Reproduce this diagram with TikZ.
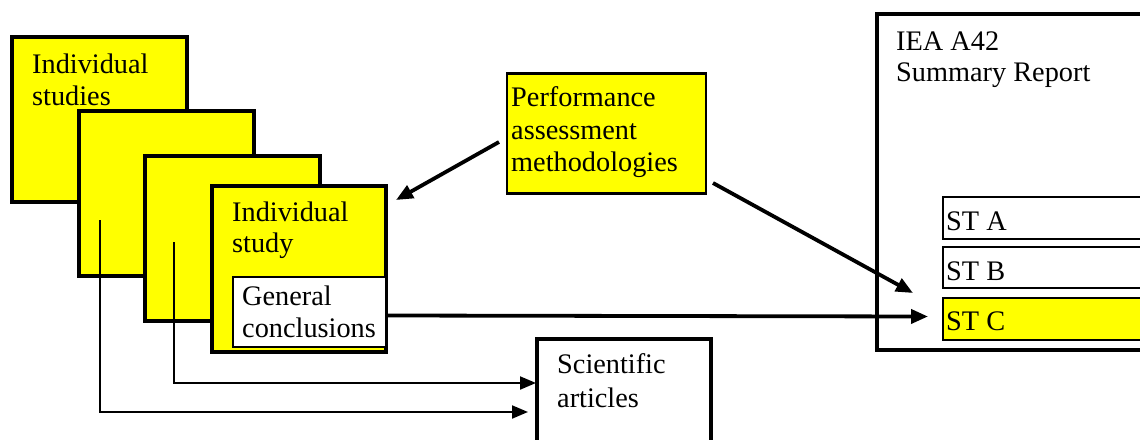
\documentclass[tikz,border=0pt]{standalone}
\usepackage{fontspec}
\setmainfont{Liberation Serif}
\usetikzlibrary{arrows.meta}
\definecolor{studyyellow}{HTML}{FFFF00}
\tikzset{
  boxbase/.style={rectangle, draw=black, inner sep=0pt, outer sep=0pt, anchor=north west},
  heavybox/.style={boxbase, line width=3.8pt},
  lightbox/.style={boxbase, line width=2pt},
  yellowfill/.style={fill=studyyellow},
  whitefill/.style={fill=white},
  txt/.style={anchor=base west, inner sep=0pt, font=\fontsize{28.3}{32}\selectfont},
  boldarrow/.style={line width=3.8pt, -{Triangle[length=17pt, width=14pt]}},
  thinarrow/.style={line width=2pt, -{Triangle[length=16pt, width=13pt]}},
}
\begin{document}
\begin{tikzpicture}[x=1pt, y=-1pt]
\path[use as bounding box, clip] (0,0) rectangle (1140,439);
\fill[white] (0,0) rectangle (1140,439);

% stack of individual studies
\node[heavybox, yellowfill, minimum width=175pt, minimum height=165pt] (s1) at (12,37) {};
\node[txt] (s1a) at (32,73) {Individual};
\node[txt] (s1b) at (32,105) {studies};
\node[heavybox, yellowfill, minimum width=175pt, minimum height=165pt] (s2) at (79,111) {};
\node[heavybox, yellowfill, minimum width=175pt, minimum height=165pt] (s3) at (145,156) {};
\node[heavybox, yellowfill, minimum width=174pt, minimum height=166pt] (s4) at (212,186) {};
\node[txt] (s4a) at (232,221.5) {Individual};
\node[txt] (s4b) at (232,252.5) {study};
\node[lightbox, whitefill, minimum width=153pt, minimum height=70pt] (gc) at (233,277) {};
\node[txt] (gca) at (242,305) {General};
\node[txt] (gcb) at (242,337) {conclusions};

% methodologies
\node[boxbase, line width=2.6pt, yellowfill, minimum width=199pt, minimum height=120pt] (pm) at (507,73.5) {};
\node[txt] (pma) at (511,106.5) {Performance};
\node[txt] (pmb) at (511,139.5) {assessment};
\node[txt] (pmc) at (511,171.5) {methodologies};

% summary report
\node[heavybox, minimum width=290pt, minimum height=336pt] (rep) at (877,14) {};
\node[txt] (repa) at (896,50) {IEA A42};
\node[txt] (repb) at (896,81.5) {Summary Report};
\node[lightbox, whitefill, minimum width=230pt, minimum height=41.5pt] (sta) at (942.5,197) {};
\node[txt] (staa) at (946,230) {ST A};
\node[lightbox, whitefill, minimum width=230pt, minimum height=41pt] (stb) at (942.5,246.5) {};
\node[txt] (stbb) at (946,280) {ST B};
\node[lightbox, yellowfill, minimum width=230pt, minimum height=41.5pt] (stc) at (942.5,298) {};
\node[txt] (stcc) at (946,330) {ST C};

% scientific articles
\node[heavybox, minimum width=174pt, minimum height=130pt] (sci) at (537,339) {};
\node[txt] (scia) at (557,373) {Scientific};
\node[txt] (scib) at (557,407) {articles};

% connector end points
\coordinate (m1) at (499,142);
\coordinate (m1e) at (396,200);
\coordinate (m2) at (713,183);
\coordinate (m2e) at (913,293);
\coordinate (g1) at (388,315.5);
\coordinate (g1e) at (928,316.5);
\coordinate (p2) at (100,220);
\coordinate (p2e) at (528,412);
\coordinate (p3) at (173.5,242);
\coordinate (p3e) at (536,383);

% connectors
\draw[boldarrow] (m1) -- (m1e);
\draw[boldarrow] (m2) -- (m2e);
\draw[boldarrow] (g1) -- (g1e);
\draw[thinarrow] (p2) |- (p2e);
\draw[thinarrow] (p3) |- (p3e);
\end{tikzpicture}
\end{document}
